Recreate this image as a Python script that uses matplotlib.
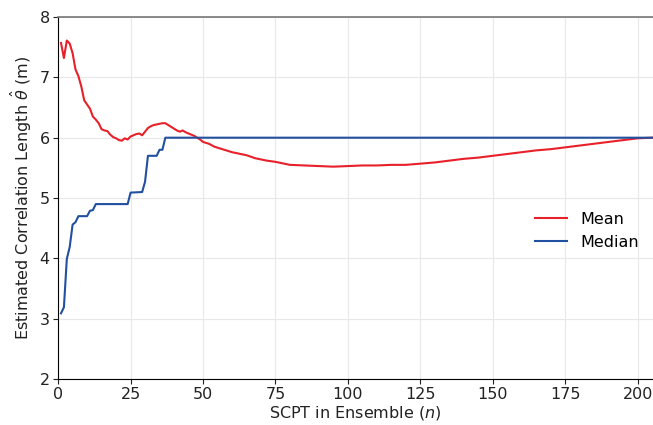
import matplotlib.pyplot as plt
import numpy as np

# mean of estimated correlation length vs ensemble size
mean_n = [1, 2, 3, 4, 5, 6, 7, 8, 9, 10, 11, 12, 13, 14, 15, 16, 17, 18, 19, 20,
          21, 22, 23, 24, 25, 26, 27, 28, 29, 30, 31, 32, 33, 34, 35, 36, 37, 38,
          39, 40, 41, 42, 43, 44, 45, 46, 47, 48, 49, 50, 52, 54, 56, 58, 60, 62,
          65, 68, 70, 72, 75, 78, 80, 85, 90, 95, 100, 105, 110, 115, 120, 125,
          130, 135, 140, 145, 150, 155, 160, 165, 170, 175, 180, 185, 190, 195,
          200, 205]
mean_val = [7.57, 7.32, 7.61, 7.56, 7.40, 7.13, 7.02, 6.85, 6.62, 6.55, 6.48, 6.35,
            6.30, 6.24, 6.14, 6.12, 6.11, 6.05, 6.01, 5.99, 5.96, 5.95, 5.99, 5.97,
            6.02, 6.04, 6.06, 6.07, 6.04, 6.10, 6.16, 6.19, 6.21, 6.22, 6.23, 6.24,
            6.24, 6.21, 6.18, 6.15, 6.12, 6.10, 6.12, 6.09, 6.07, 6.05, 6.03, 6.00,
            5.97, 5.93, 5.90, 5.85, 5.82, 5.79, 5.76, 5.74, 5.71, 5.66, 5.64, 5.62,
            5.60, 5.57, 5.55, 5.54, 5.53, 5.52, 5.53, 5.54, 5.54, 5.55, 5.55, 5.57,
            5.59, 5.62, 5.65, 5.67, 5.70, 5.73, 5.76, 5.79, 5.81, 5.84, 5.87, 5.90,
            5.93, 5.96, 5.99, 6.00]

# median of estimated correlation length
median_n = [1, 2, 3, 4, 5, 6, 7, 10, 11, 12, 13, 24, 25, 29, 30, 31, 34, 35, 36, 37, 205]
median_val = [3.09, 3.19, 3.99, 4.19, 4.56, 4.60, 4.70, 4.70, 4.79, 4.80, 4.90, 4.90,
              5.09, 5.10, 5.27, 5.70, 5.70, 5.80, 5.80, 6.00, 6.00]

fig = plt.figure(figsize=(6.53, 4.25), dpi=100)
ax = fig.add_axes([0.089, 0.108, 0.911, 0.852])

ax.plot(mean_n, mean_val, color="#e8202a", lw=1.5, label="Mean")
ax.plot(median_n, median_val, color="#2150a0", lw=1.5, label="Median")

ax.set_xlim(0, 205.3)
ax.set_ylim(2, 8)
ax.set_xticks(np.arange(0, 201, 25))
ax.set_yticks(np.arange(2, 9, 1))
ax.grid(True, color="#e8e8e8", lw=0.8)
ax.set_axisbelow(True)

ax.spines["right"].set_visible(False)
ax.spines["top"].set_color("#777777")
ax.spines["top"].set_linewidth(1.2)
ax.tick_params(labelsize=11.5, colors="#222222", pad=2.5)

ax.set_xlabel("SCPT in Ensemble ($n$)", fontsize=11.5, color="#222222", labelpad=1)
ax.set_ylabel(r"Estimated Correlation Length $\hat{\theta}$ (m)", fontsize=11.5,
              color="#222222")

ax.legend(loc="center right", bbox_to_anchor=(1.0, 0.41), frameon=False,
          fontsize=11.5, handlelength=2.0)

fig.savefig("out.png", dpi=100)
